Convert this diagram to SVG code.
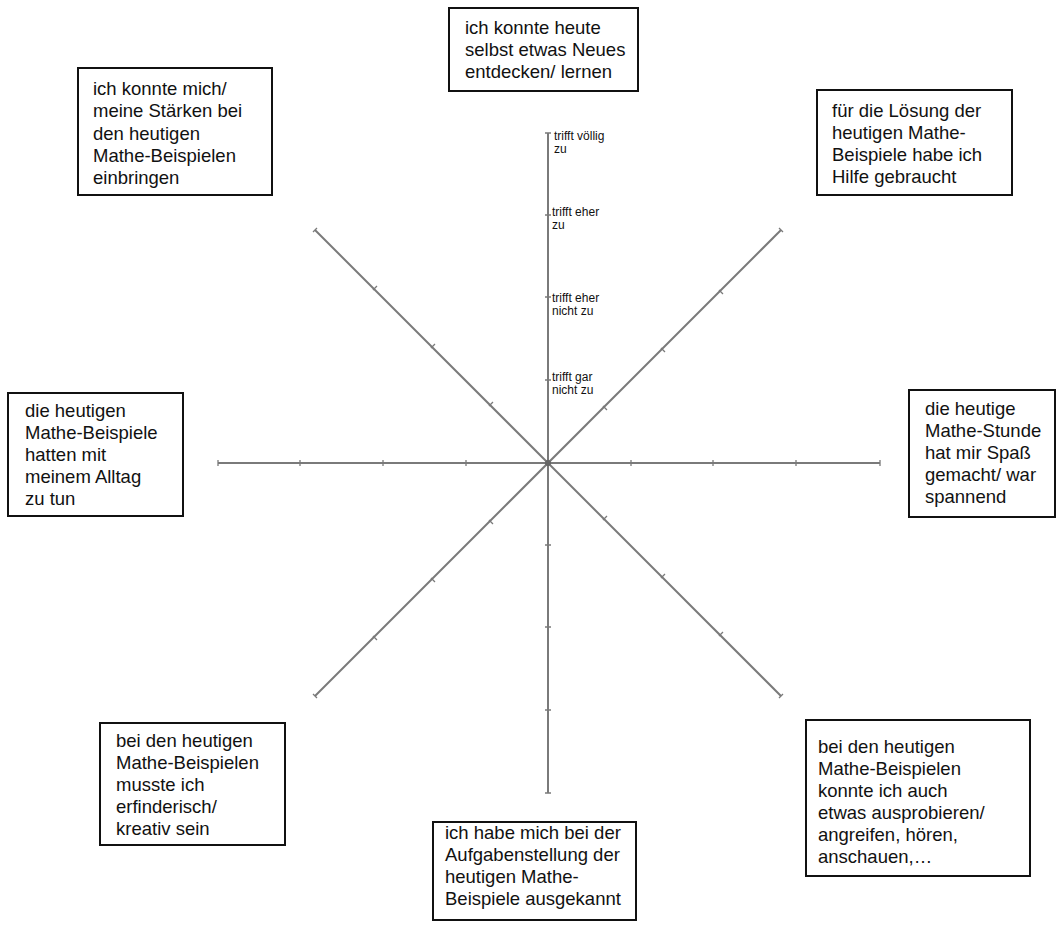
<svg xmlns="http://www.w3.org/2000/svg" width="1060" height="928" viewBox="0 0 1060 928">
<style>
.box{fill:#fff;stroke:#111;stroke-width:2}
.t{font-family:"Liberation Sans",Arial,sans-serif;font-size:18.5px;fill:#111}
.s{font-family:"Liberation Sans",Arial,sans-serif;font-size:12px;fill:#111}
.ax{stroke:#7a7a7a;stroke-width:2;fill:none}
.tk{stroke:#7a7a7a;stroke-width:1.3;fill:none}
</style>
<rect width="1060" height="928" fill="#fff"/>
<g id="connectors">
<line class="ax" x1="548" y1="133" x2="548" y2="793"/>
<line class="ax" x1="218" y1="463" x2="880" y2="463"/>
<line class="ax" x1="315" y1="230" x2="781" y2="696"/>
<line class="ax" x1="781" y1="230" x2="315" y2="696"/>
<g id="ticks">
<path class="tk" d="M545 133h6M545 215h6M545 297h6M545 380h6M545 545h6M545 627h6M545 710h6M545 793h6"/>
<path class="tk" d="M218 460v6M300 460v6M383 460v6M466 460v6M631 460v6M713 460v6M796 460v6M880 460v6"/>
<path class="tk" d="M313 232l4 -4M373 290l4 -4M431 348l4 -4M489 406l4 -4M603 520l4 -4M661 578l4 -4M719 636l4 -4M779 698l4 -4"/>
<path class="tk" d="M779 228l4 4M719 290l4 4M661 348l4 4M603 406l4 4M489 520l4 4M431 578l4 4M373 636l4 4M313 694l4 4"/>
</g>
<circle cx="548" cy="463" r="3" fill="#666"/>
</g>
<g id="axis-labels">
<text class="s" x="554" y="140">trifft völlig</text>
<text class="s" x="554" y="153">zu</text>
<text class="s" x="552" y="216">trifft eher</text>
<text class="s" x="552" y="229">zu</text>
<text class="s" x="552" y="302">trifft eher</text>
<text class="s" x="552" y="315">nicht zu</text>
<text class="s" x="552" y="381">trifft gar</text>
<text class="s" x="552" y="394">nicht zu</text>
</g>
<g id="node-top">
<rect class="box" x="449" y="8" width="189" height="83"/>
<text class="t" x="465" y="34">ich konnte heute</text>
<text class="t" x="465" y="56">selbst etwas Neues</text>
<text class="t" x="465" y="78">entdecken/ lernen</text>
</g>
<g id="node-top-left">
<rect class="box" x="78" y="68" width="194" height="127"/>
<text class="t" x="93" y="95">ich konnte mich/</text>
<text class="t" x="93" y="117">meine Stärken bei</text>
<text class="t" x="93" y="140">den heutigen</text>
<text class="t" x="93" y="162">Mathe-Beispielen</text>
<text class="t" x="93" y="184">einbringen</text>
</g>
<g id="node-top-right">
<rect class="box" x="817" y="90" width="195" height="105"/>
<text class="t" x="832" y="117">für die Lösung der</text>
<text class="t" x="832" y="139">heutigen Mathe-</text>
<text class="t" x="832" y="161">Beispiele habe ich</text>
<text class="t" x="832" y="183">Hilfe gebraucht</text>
</g>
<g id="node-left">
<rect class="box" x="8" y="393" width="175" height="123"/>
<text class="t" x="25" y="417">die heutigen</text>
<text class="t" x="25" y="439">Mathe-Beispiele</text>
<text class="t" x="25" y="461">hatten mit</text>
<text class="t" x="25" y="483">meinem Alltag</text>
<text class="t" x="25" y="505">zu tun</text>
</g>
<g id="node-right">
<rect class="box" x="909" y="390" width="146" height="127"/>
<text class="t" x="925" y="415">die heutige</text>
<text class="t" x="925" y="437">Mathe-Stunde</text>
<text class="t" x="925" y="459">hat mir Spaß</text>
<text class="t" x="925" y="481">gemacht/ war</text>
<text class="t" x="925" y="503">spannend</text>
</g>
<g id="node-bottom-left">
<rect class="box" x="100" y="723" width="185" height="122"/>
<text class="t" x="116" y="747">bei den heutigen</text>
<text class="t" x="116" y="769">Mathe-Beispielen</text>
<text class="t" x="116" y="791">musste ich</text>
<text class="t" x="116" y="813">erfinderisch/</text>
<text class="t" x="116" y="835">kreativ sein</text>
</g>
<g id="node-bottom-right">
<rect class="box" x="806" y="720" width="224" height="156"/>
<text class="t" x="818" y="753">bei den heutigen</text>
<text class="t" x="818" y="775">Mathe-Beispielen</text>
<text class="t" x="818" y="797">konnte ich auch</text>
<text class="t" x="818" y="819">etwas ausprobieren/</text>
<text class="t" x="818" y="841">angreifen, hören,</text>
<text class="t" x="818" y="863">anschauen,…</text>
</g>
<g id="node-bottom">
<rect class="box" x="433" y="822" width="203" height="98"/>
<text class="t" x="445" y="839">ich habe mich bei der</text>
<text class="t" x="445" y="861">Aufgabenstellung der</text>
<text class="t" x="445" y="883">heutigen Mathe-</text>
<text class="t" x="445" y="905">Beispiele ausgekannt</text>
</g>
</svg>
